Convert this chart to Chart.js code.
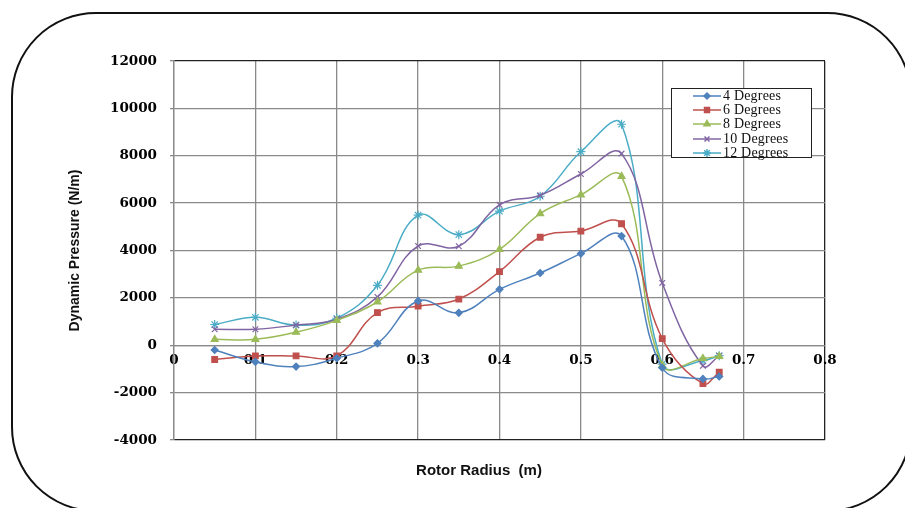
<!DOCTYPE html>
<html>
<head>
<meta charset="utf-8">
<script src="https://cdn.jsdelivr.net/npm/chart.js@4.4.1/dist/chart.umd.min.js"></script>
<style>
html, body { margin: 0; padding: 0; background: #fff; overflow: hidden; }
#wrap { position: relative; width: 905px; height: 508px; }
#chart { position: absolute; left: 0; top: 0; }
#frame {
    position: absolute; left: 11px; top: 12px; width: 901px; height: 500px;
    border: 2.5px solid #111; border-radius: 85px; box-sizing: border-box; pointer-events: none;
}
#legend {
    position: absolute; left: 671px; top: 88px; width: 141px; height: 70px;
    border: 1.3px solid #222; background: #fff; box-sizing: border-box; padding-top: 0px;
}
#legend .row { height: 14.2px; display: flex; align-items: center; }
#legend canvas { margin-left: 20px; margin-right: 1px; }
#legend span { font-family: "Liberation Serif", serif; font-size: 14px; color: #111; line-height: 14px; letter-spacing: 0.2px; }
</style>
</head>
<body>
<div id="wrap">
    <canvas id="chart" width="905" height="508"></canvas>
    <div id="frame"></div>
    <div id="legend"></div>
</div>
<script>
// rotor radius (m)
const radius = [0.05, 0.1, 0.15, 0.2, 0.25, 0.3, 0.35, 0.4, 0.45, 0.5, 0.55, 0.6, 0.65, 0.67];

// dynamic pressure (N/m) per pitch angle
const deg4  = [-200, -700, -900, -550,   80, 1870, 1370, 2360, 3050, 3870, 4610, -950, -1420, -1320];
const deg6  = [-600, -450, -450, -450, 1380, 1650, 1950, 3110, 4560, 4820, 5130,  280, -1620, -1140];
const deg8  = [ 250,  250,  550, 1050, 1830, 3170, 3340, 4050, 5560, 6350, 7130, -850,  -560,  -470];
const deg10 = [ 675,  675,  850, 1100, 2040, 4190, 4180, 5930, 6330, 7230, 8090, 2630,  -870,  -450];
const deg12 = [ 875, 1180,  850, 1140, 2530, 5490, 4670, 5660, 6290, 8170, 9330, -800,  -650,  -440];

const seriesLabels = ['4 Degrees', '6 Degrees', '8 Degrees', '10 Degrees', '12 Degrees'];
const seriesValues = [deg4, deg6, deg8, deg10, deg12];
const seriesColors = ['#4F81BD', '#C0504D', '#9BBB59', '#8064A2', '#4BACC6'];
const seriesMarkers = ['rectRot', 'rect', 'triangle', 'crossRot', 'star'];
const markerSizes = [3.5, 4, 4, 4, 4.5];

const xTicks = [0, 0.1, 0.2, 0.3, 0.4, 0.5, 0.6, 0.7, 0.8];
const xTickLabels = ['0', '0.1', '0.2', '0.3', '0.4', '0.5', '0.6', '0.7', '0.8'];
const yTicks = [-4000, -2000, 0, 2000, 4000, 6000, 8000, 10000, 12000];
const yTickLabels = ['-4000', '-2000', '0', '2000', '4000', '6000', '8000', '10000', '12000'];

const gridGray = '#8a8a8a';
const tickFont = { family: 'DejaVu Serif', weight: 'bold', size: 13.5 };

const datasets = seriesLabels.map((label, s) => ({
    label: label,
    data: radius.map((x, i) => ({ x: x, y: seriesValues[s][i] })),
    borderColor: seriesColors[s],
    backgroundColor: seriesColors[s],
    pointBackgroundColor: seriesColors[s],
    pointBorderColor: seriesColors[s],
    pointStyle: seriesMarkers[s],
    pointRadius: markerSizes[s],
    pointBorderWidth: 1.2,
    borderWidth: 1.5,
    tension: 0.4,
    fill: false
}));

new Chart(document.getElementById('chart'), {
    type: 'line',
    data: { datasets: datasets },
    options: {
        responsive: false,
        animation: false,
        layout: { padding: { left: 53, right: 0, top: 61, bottom: 0 } },
        plugins: {
            legend: { display: false },
            tooltip: { enabled: false },
            title: {
                display: true,
                position: 'bottom',
                text: 'Rotor Radius  (m)',
                color: '#111',
                font: { family: 'Liberation Sans', size: 15, weight: 'bold' },
                padding: { top: 22, bottom: 28 }
            }
        },
        scales: {
            x: {
                type: 'linear',
                min: 0, max: 0.8,
                position: { y: 0 },
                afterBuildTicks: s => { s.ticks = xTicks.map(v => ({ value: v })); },
                ticks: {
                    autoSkip: false, maxRotation: 0, padding: 7, color: '#000', font: tickFont,
                    callback: (v, i) => xTickLabels[i]
                },
                grid: {
                    color: ctx => (ctx.tick && ctx.tick.value === 0.8) ? '#222' : gridGray,
                    lineWidth: 1.3,
                    drawTicks: false
                },
                border: { color: gridGray, width: 1.3 }
            },
            y: {
                type: 'linear',
                min: -4000, max: 12000,
                afterBuildTicks: s => { s.ticks = yTicks.map(v => ({ value: v })); },
                afterFit: s => { s.width = 121; },
                ticks: {
                    padding: 13, color: '#000', font: tickFont,
                    callback: (v, i) => yTickLabels[i]
                },
                grid: {
                    color: ctx => (ctx.tick && (ctx.tick.value === 12000 || ctx.tick.value === -4000)) ? '#222' : gridGray,
                    lineWidth: 1.3,
                    tickLength: 4,
                    tickColor: gridGray
                },
                border: { color: gridGray, width: 1.3 },
                title: {
                    display: true,
                    text: 'Dynamic Pressure (N/m)',
                    color: '#111',
                    font: { family: 'Liberation Sans', size: 14, weight: 'bold' },
                    padding: { top: 14, bottom: 0 }
                }
            },
            yR: {
                type: 'linear',
                position: 'right',
                display: true,
                ticks: { display: false },
                grid: { display: false },
                border: { display: false },
                afterFit: s => { s.width = 80; }
            }
        }
    }
});

// legend box inside the plot, line + marker like the original
const legendBox = document.getElementById('legend');
seriesLabels.forEach((label, s) => {
    const row = document.createElement('div');
    row.className = 'row';
    const c = document.createElement('canvas');
    c.width = 30; c.height = 12;
    const ctx = c.getContext('2d');
    ctx.strokeStyle = seriesColors[s];
    ctx.lineWidth = 1.5;
    ctx.beginPath(); ctx.moveTo(1, 6); ctx.lineTo(29, 6); ctx.stroke();
    ctx.fillStyle = seriesColors[s];
    Chart.helpers.drawPoint(ctx, {
        pointStyle: seriesMarkers[s], radius: markerSizes[s] - 0.5, rotation: 0, borderWidth: 1.2
    }, 15, 6);
    row.appendChild(c);
    const t = document.createElement('span');
    t.textContent = label;
    row.appendChild(t);
    legendBox.appendChild(row);
});
</script>
</body>
</html>
